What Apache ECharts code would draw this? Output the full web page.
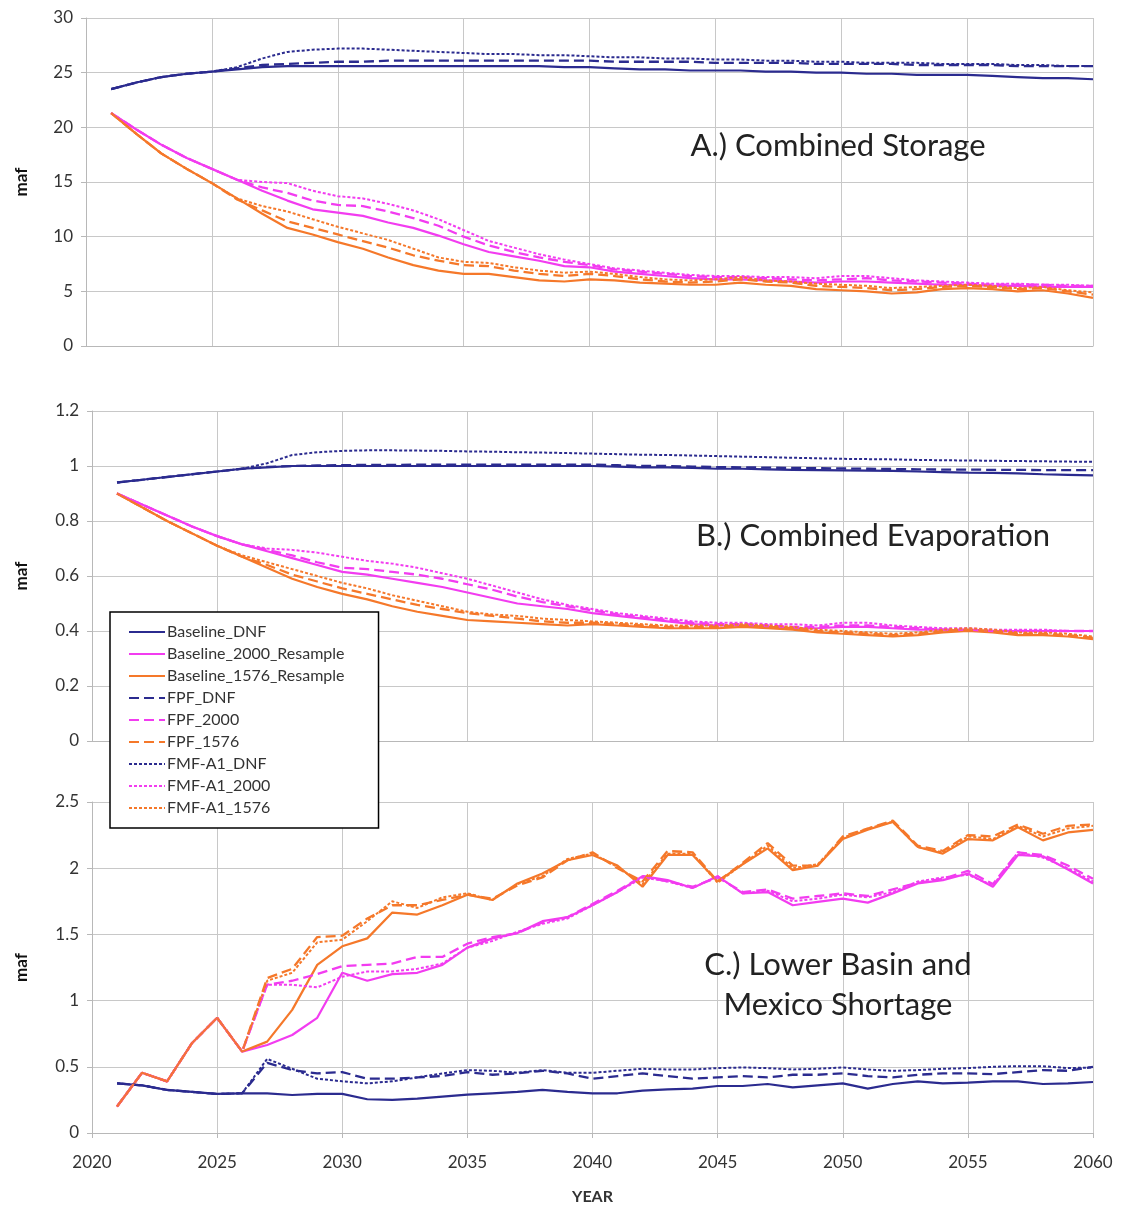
<!DOCTYPE html>
<html><head><meta charset="utf-8">
<script src="https://cdn.jsdelivr.net/npm/echarts@6/dist/echarts.min.js"></script>
<style>html,body{margin:0;padding:0;background:#fff}#c{width:1122px;height:1209px}</style>
</head><body><div id="c"></div>
<script>
const years = [2021,2022,2023,2024,2025,2026,2027,2028,2029,2030,2031,2032,2033,2034,2035,2036,2037,2038,2039,2040,
               2041,2042,2043,2044,2045,2046,2047,2048,2049,2050,2051,2052,2053,2054,2055,2056,2057,2058,2059,2060];
const xTicks = [2020,2025,2030,2035,2040,2045,2050,2055,2060];
const seriesNames = ['Baseline_DNF','Baseline_2000_Resample','Baseline_1576_Resample','FPF_DNF','FPF_2000','FPF_1576','FMF-A1_DNF','FMF-A1_2000','FMF-A1_1576'];
const panelTitles = ['A.) Combined Storage','B.) Combined Evaporation','C.) Lower Basin and\nMexico Shortage'];

// Panel A: Combined Storage (maf)
const A_Baseline_DNF = [23.5,24.1,24.6,24.9,25.1,25.3,25.5,25.6,25.6,25.6,25.6,25.6,25.6,25.6,25.6,25.6,25.6,25.6,25.5,25.5,25.4,25.3,25.3,25.2,25.2,25.2,25.1,25.1,25.0,25.0,24.9,24.9,24.8,24.8,24.8,24.7,24.6,24.5,24.5,24.4];
const A_FPF_DNF = [23.5,24.1,24.6,24.9,25.1,25.4,25.7,25.8,25.9,26.0,26.0,26.1,26.1,26.1,26.1,26.1,26.1,26.1,26.1,26.1,26.0,26.0,26.0,26.0,25.9,25.9,25.9,25.9,25.8,25.8,25.8,25.8,25.7,25.7,25.7,25.7,25.6,25.6,25.6,25.6];
const A_FMF_DNF = [23.5,24.1,24.6,24.9,25.1,25.5,26.3,26.9,27.1,27.2,27.2,27.1,27.0,26.9,26.8,26.7,26.7,26.6,26.6,26.5,26.4,26.4,26.3,26.3,26.2,26.2,26.1,26.1,26.0,26.0,25.9,25.9,25.9,25.8,25.8,25.8,25.7,25.7,25.6,25.6];
const A_Base_2000 = [21.3,19.8,18.4,17.2,16.2,15.2,14.2,13.3,12.5,12.2,11.9,11.3,10.8,10.1,9.3,8.6,8.2,7.8,7.3,7.2,6.8,6.6,6.4,6.2,6.1,6.1,6.0,5.9,5.8,5.9,5.9,5.8,5.7,5.6,5.6,5.5,5.5,5.4,5.4,5.4];
const A_FPF_2000 = [21.3,19.8,18.4,17.2,16.2,15.2,14.5,14.0,13.3,12.9,12.8,12.3,11.7,11.0,10.0,9.2,8.6,8.1,7.7,7.4,7.0,6.8,6.6,6.4,6.3,6.3,6.2,6.1,6.0,6.1,6.2,6.0,5.9,5.8,5.7,5.6,5.6,5.6,5.5,5.5];
const A_FMF_2000 = [21.3,19.8,18.4,17.2,16.2,15.2,15.0,14.9,14.2,13.7,13.5,13.0,12.4,11.6,10.6,9.6,9.0,8.4,7.9,7.5,7.1,6.9,6.7,6.5,6.4,6.4,6.3,6.3,6.2,6.4,6.4,6.2,6.0,5.9,5.8,5.7,5.7,5.6,5.6,5.5];
const A_Base_1576 = [21.3,19.4,17.6,16.2,14.9,13.5,12.1,10.8,10.2,9.5,8.9,8.1,7.4,6.9,6.6,6.6,6.3,6.0,5.9,6.1,6.0,5.8,5.7,5.6,5.6,5.8,5.6,5.5,5.2,5.1,5.0,4.8,4.9,5.2,5.3,5.2,5.0,5.1,4.8,4.4];
const A_FPF_1576 = [21.3,19.4,17.6,16.2,14.9,13.4,12.4,11.4,10.8,10.2,9.6,9.0,8.3,7.8,7.4,7.3,6.9,6.6,6.4,6.6,6.4,6.1,5.9,5.8,5.9,6.1,5.9,5.8,5.5,5.4,5.3,5.1,5.2,5.4,5.5,5.4,5.2,5.3,5.0,4.7];
const A_FMF_1576 = [21.3,19.4,17.6,16.2,14.9,13.5,12.8,12.3,11.6,10.9,10.3,9.7,8.9,8.1,7.7,7.6,7.2,6.9,6.7,6.8,6.6,6.3,6.1,6.0,6.1,6.3,6.0,5.9,5.7,5.6,5.5,5.3,5.4,5.5,5.6,5.5,5.3,5.4,5.1,4.9];

// Panel B: Combined Evaporation (maf)
const B_Baseline_DNF = [0.94,0.95,0.96,0.97,0.98,0.99,0.995,1.0,1.0,1.0,1.0,1.0,1.0,1.0,1.0,1.0,1.0,1.0,1.0,1.0,0.998,0.995,0.995,0.993,0.99,0.99,0.988,0.986,0.985,0.984,0.983,0.982,0.98,0.978,0.976,0.975,0.973,0.97,0.968,0.966];
const B_FPF_DNF = [0.94,0.95,0.96,0.97,0.98,0.99,0.997,1.0,1.002,1.003,1.004,1.004,1.005,1.005,1.005,1.005,1.005,1.005,1.005,1.005,1.003,1.0,1.0,0.998,0.996,0.995,0.994,0.993,0.992,0.991,0.99,0.989,0.988,0.987,0.987,0.986,0.986,0.985,0.985,0.985];
const B_FMF_DNF = [0.94,0.95,0.96,0.97,0.98,0.99,1.01,1.04,1.05,1.055,1.057,1.057,1.056,1.055,1.053,1.052,1.05,1.049,1.047,1.045,1.043,1.041,1.04,1.038,1.036,1.034,1.032,1.03,1.028,1.026,1.025,1.024,1.022,1.021,1.02,1.019,1.018,1.017,1.016,1.015];
const B_Base_2000 = [0.90,0.86,0.82,0.78,0.745,0.715,0.69,0.665,0.64,0.615,0.605,0.59,0.575,0.56,0.54,0.52,0.50,0.49,0.48,0.465,0.455,0.445,0.435,0.425,0.42,0.42,0.415,0.41,0.41,0.415,0.415,0.41,0.405,0.405,0.40,0.40,0.40,0.40,0.40,0.40];
const B_FPF_2000 = [0.90,0.86,0.82,0.78,0.745,0.715,0.695,0.675,0.65,0.63,0.625,0.615,0.605,0.59,0.57,0.55,0.525,0.505,0.49,0.475,0.46,0.45,0.44,0.43,0.425,0.425,0.42,0.415,0.415,0.42,0.42,0.415,0.41,0.405,0.405,0.40,0.40,0.40,0.40,0.40];
const B_FMF_2000 = [0.90,0.86,0.82,0.78,0.745,0.715,0.70,0.695,0.685,0.67,0.655,0.645,0.63,0.61,0.59,0.565,0.54,0.515,0.495,0.48,0.465,0.455,0.445,0.435,0.43,0.43,0.425,0.425,0.42,0.43,0.43,0.42,0.415,0.41,0.41,0.405,0.405,0.405,0.40,0.40];
const B_Base_1576 = [0.90,0.85,0.80,0.755,0.71,0.67,0.63,0.59,0.56,0.535,0.515,0.49,0.47,0.455,0.44,0.435,0.43,0.425,0.42,0.425,0.42,0.415,0.41,0.41,0.41,0.415,0.41,0.405,0.395,0.39,0.385,0.38,0.385,0.395,0.40,0.395,0.385,0.385,0.38,0.37];
const B_FPF_1576 = [0.90,0.85,0.80,0.755,0.71,0.67,0.64,0.605,0.58,0.555,0.535,0.515,0.495,0.48,0.465,0.455,0.445,0.435,0.43,0.43,0.425,0.42,0.415,0.415,0.415,0.42,0.415,0.41,0.40,0.395,0.39,0.385,0.39,0.40,0.405,0.40,0.39,0.39,0.385,0.375];
const B_FMF_1576 = [0.90,0.85,0.80,0.755,0.71,0.675,0.65,0.625,0.60,0.575,0.555,0.53,0.51,0.49,0.47,0.46,0.455,0.445,0.44,0.435,0.43,0.425,0.42,0.42,0.42,0.425,0.42,0.415,0.405,0.40,0.395,0.39,0.395,0.405,0.41,0.405,0.395,0.395,0.39,0.38];

// Panel C: Lower Basin and Mexico Shortage (maf)
const C_Baseline_DNF = [0.375,0.36,0.325,0.31,0.295,0.30,0.30,0.287,0.295,0.295,0.255,0.25,0.26,0.275,0.29,0.30,0.31,0.325,0.31,0.30,0.30,0.32,0.33,0.335,0.355,0.355,0.37,0.345,0.36,0.375,0.335,0.37,0.39,0.375,0.38,0.39,0.39,0.37,0.375,0.385];
const C_FPF_DNF = [0.375,0.36,0.325,0.31,0.295,0.30,0.53,0.475,0.45,0.46,0.41,0.41,0.42,0.43,0.46,0.44,0.45,0.47,0.45,0.41,0.43,0.45,0.43,0.41,0.42,0.43,0.42,0.44,0.44,0.45,0.43,0.42,0.44,0.45,0.45,0.445,0.46,0.475,0.47,0.50];
const C_FMF_DNF = [0.375,0.36,0.325,0.31,0.295,0.30,0.56,0.485,0.41,0.39,0.375,0.39,0.42,0.45,0.475,0.47,0.455,0.475,0.455,0.455,0.47,0.485,0.48,0.48,0.49,0.495,0.49,0.48,0.485,0.495,0.48,0.47,0.475,0.485,0.49,0.50,0.505,0.505,0.49,0.495];
const C_Base_2000 = [0.20,0.455,0.39,0.68,0.87,0.615,0.665,0.74,0.87,1.21,1.15,1.20,1.21,1.27,1.40,1.47,1.51,1.60,1.63,1.72,1.82,1.94,1.91,1.85,1.94,1.81,1.82,1.72,1.745,1.77,1.74,1.81,1.885,1.91,1.96,1.86,2.10,2.09,1.99,1.885];
const C_FPF_2000 = [0.20,0.455,0.39,0.68,0.87,0.615,1.12,1.15,1.20,1.26,1.27,1.28,1.33,1.33,1.43,1.48,1.51,1.59,1.63,1.73,1.83,1.94,1.90,1.86,1.93,1.82,1.84,1.77,1.79,1.81,1.79,1.84,1.89,1.92,1.98,1.88,2.12,2.10,2.02,1.92];
const C_FMF_2000 = [0.20,0.455,0.39,0.68,0.87,0.615,1.12,1.12,1.10,1.18,1.22,1.22,1.24,1.28,1.40,1.45,1.52,1.58,1.62,1.72,1.82,1.93,1.90,1.85,1.94,1.81,1.83,1.75,1.77,1.80,1.78,1.82,1.90,1.93,1.95,1.87,2.12,2.08,2.00,1.90];
const C_Base_1576 = [0.20,0.455,0.39,0.68,0.87,0.615,0.69,0.93,1.27,1.41,1.47,1.665,1.65,1.72,1.80,1.76,1.885,1.96,2.06,2.10,2.02,1.86,2.10,2.10,1.90,2.03,2.15,1.985,2.02,2.22,2.29,2.35,2.16,2.11,2.22,2.21,2.31,2.21,2.27,2.29];
const C_FPF_1576 = [0.20,0.455,0.39,0.68,0.87,0.615,1.17,1.24,1.48,1.49,1.62,1.72,1.72,1.76,1.80,1.77,1.87,1.93,2.06,2.12,2.00,1.90,2.13,2.12,1.90,2.04,2.19,2.02,2.02,2.24,2.30,2.36,2.17,2.13,2.25,2.24,2.33,2.26,2.32,2.33];
const C_FMF_1576 = [0.20,0.455,0.39,0.68,0.87,0.615,1.15,1.21,1.44,1.46,1.60,1.75,1.70,1.78,1.81,1.76,1.88,1.94,2.07,2.11,2.01,1.88,2.11,2.11,1.89,2.03,2.17,2.00,2.03,2.23,2.30,2.35,2.16,2.12,2.24,2.22,2.32,2.24,2.30,2.32];

const panelData = [
  [A_Baseline_DNF,A_Base_2000,A_Base_1576,A_FPF_DNF,A_FPF_2000,A_FPF_1576,A_FMF_DNF,A_FMF_2000,A_FMF_1576],
  [B_Baseline_DNF,B_Base_2000,B_Base_1576,B_FPF_DNF,B_FPF_2000,B_FPF_1576,B_FMF_DNF,B_FMF_2000,B_FMF_1576],
  [C_Baseline_DNF,C_Base_2000,C_Base_1576,C_FPF_DNF,C_FPF_2000,C_FPF_1576,C_FMF_DNF,C_FMF_2000,C_FMF_1576]
];
const yMax = [30, 1.2, 2.5];
const yStep = [5, 0.2, 0.5];

const NAVY = '#2b2b8f', MAG = '#f23cf0', ORG = '#f5782a';
const colors = [NAVY, MAG, ORG, NAVY, MAG, ORG, NAVY, MAG, ORG];
const dashTypes = ['solid','solid','solid',[10,5],[10,5],[10,5],[3,2],[3,2],[3,2]];
const widths = [2.2,2.2,2.2,2.3,2.3,2.3,2,2,2];

const grids = [
  {left: 86, right: 29, top: 18, height: 328},
  {left: 92, right: 29, top: 411, height: 330},
  {left: 92, right: 29, top: 802, height: 331}
];
const FONT = 'Lato, "Open Sans", sans-serif';
const gridColor = '#c8c8c8';

const xAxes = grids.map((g, i) => ({
  type: 'value', gridIndex: i, min: xTicks[0], max: xTicks[xTicks.length-1], interval: 5,
  axisLine: {show: true, onZero: false, lineStyle: {color: '#b8b8b8'}},
  axisTick: {show: i === 2, length: 5, lineStyle: {color: '#b8b8b8'}},
  axisLabel: {show: i === 2, fontSize: 17, color: '#333', margin: 21, fontFamily: FONT, formatter: v => String(v)},
  splitLine: {show: true, lineStyle: {color: gridColor}},
  name: i === 2 ? 'YEAR' : '', nameLocation: 'middle', nameGap: 56,
  nameTextStyle: {fontWeight: 'bold', fontSize: 16, color: '#333', fontFamily: FONT}
}));
const yAxes = grids.map((g, i) => ({
  type: 'value', gridIndex: i, min: 0, max: yMax[i], interval: yStep[i],
  axisLine: {show: true, lineStyle: {color: '#b8b8b8'}},
  axisTick: {show: true, length: 5, lineStyle: {color: '#b8b8b8'}},
  axisLabel: {fontSize: 17, color: '#333', margin: 13, fontFamily: FONT},
  splitLine: {show: true, lineStyle: {color: gridColor}},
  name: 'maf', nameLocation: 'middle', nameRotate: 90, nameGap: g.left - 30,
  nameTextStyle: {fontWeight: 'bold', fontSize: 17, color: '#111', fontFamily: FONT}
}));

const series = [];
panelData.forEach((arrs, p) => {
  arrs.forEach((arr, k) => {
    series.push({
      type: 'line', name: seriesNames[k], xAxisIndex: p, yAxisIndex: p,
      data: years.map((y, j) => [y, arr[j]]),
      symbol: 'none', showSymbol: false, silent: true,
      color: colors[k],
      lineStyle: {color: colors[k], width: widths[k], type: dashTypes[k], cap: 'butt'},
      z: 2
    });
  });
});

const chart = echarts.init(document.getElementById('c'), null, {renderer: 'canvas'});
chart.setOption({
  animation: false,
  backgroundColor: '#ffffff',
  grid: grids,
  xAxis: xAxes,
  yAxis: yAxes,
  legend: {
    data: seriesNames, orient: 'vertical', left: 110, top: 612,
    padding: [12, 34, 12, 18], itemWidth: 36, itemHeight: 16, itemGap: 6,
    itemStyle: {opacity: 0},
    backgroundColor: '#ffffff', borderColor: '#000', borderWidth: 1.5, borderRadius: 0,
    textStyle: {fontSize: 16, color: '#333', fontFamily: FONT, padding: [0,0,0,-3]},
    selectedMode: false, z: 10
  },
  graphic: [
    {type: 'text', x: 838, y: 146, style: {text: panelTitles[0], font: '31px ' + FONT, fill: '#222', textAlign: 'center', textVerticalAlign: 'middle'}, z: 5},
    {type: 'text', x: 873, y: 536, style: {text: panelTitles[1], font: '31px ' + FONT, fill: '#222', textAlign: 'center', textVerticalAlign: 'middle'}, z: 5},
    {type: 'text', x: 838, y: 985, style: {text: panelTitles[2], font: '31px ' + FONT, lineHeight: 40, fill: '#222', textAlign: 'center', textVerticalAlign: 'middle'}, z: 5}
  ],
  series: series
});
</script>
</body></html>
